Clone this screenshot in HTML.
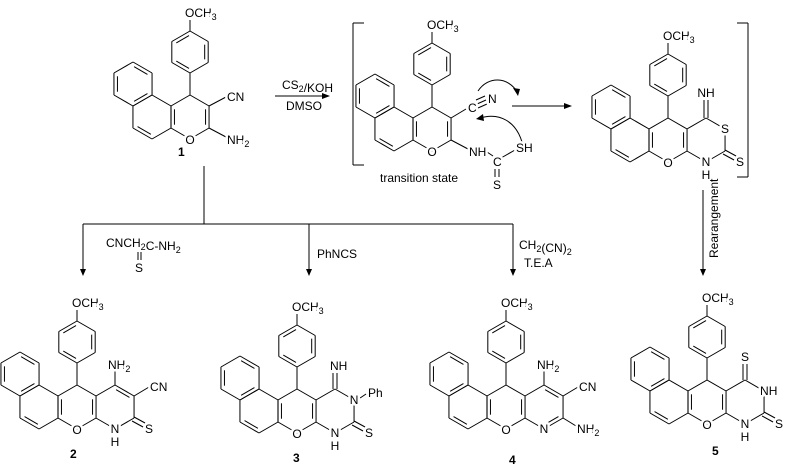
<!DOCTYPE html>
<html><head><meta charset="utf-8">
<style>
html,body{margin:0;padding:0;background:#fff;}
svg{display:block;}
text{font-family:"Liberation Sans",sans-serif;font-size:12px;fill:#000;}
.h{paint-order:stroke;stroke:#fff;stroke-width:5px;stroke-linejoin:round;}
.b{font-weight:bold;}
</style></head>
<body>
<svg id="s" width="785" height="469" viewBox="0 0 785 469" xmlns="http://www.w3.org/2000/svg">
<g id="lines" stroke="#000" stroke-width="1" fill="none"></g>
<g id="labels"></g>
</svg>
<script>
var G=document.getElementById('lines'),T=document.getElementById('labels'),NS='http://www.w3.org/2000/svg';
function L(a,b,c,d,w){var e=document.createElementNS(NS,'line');e.setAttribute('x1',a);e.setAttribute('y1',b);e.setAttribute('x2',c);e.setAttribute('y2',d);if(w)e.setAttribute('stroke-width',w);G.appendChild(e);}
function P(d,w){var e=document.createElementNS(NS,'path');e.setAttribute('d',d);if(w)e.setAttribute('stroke-width',w);G.appendChild(e);}
function F(d){var e=document.createElementNS(NS,'path');e.setAttribute('d',d);e.setAttribute('fill','#000');e.setAttribute('stroke','none');G.appendChild(e);}
function X(x,y,html,anchor,cls,nohalo){var e=document.createElementNS(NS,'text');e.setAttribute('x',x);e.setAttribute('y',y);e.setAttribute('class',(nohalo?'':'h ')+(cls||''));if(anchor)e.setAttribute('text-anchor',anchor);e.innerHTML=html;T.appendChild(e);}
function R(x,y,html){X(x,y,html,null,null,true);}
var sub=function(s){return '<tspan dy="3" font-size="9">'+s+'</tspan><tspan dy="-3"></tspan>';};
function hex(cx,cy,r){r=r||22;var v=[];for(var k=0;k<6;k++){var a=(-90+60*k)*Math.PI/180;v.push([cx+r*Math.cos(a),cy+r*Math.sin(a)]);}return v;}
function edge(v,i,j){L(v[i][0],v[i][1],v[j][0],v[j][1]);}
function inner(v,i,j,cx,cy){var a=v[i],b=v[j];var mx=(a[0]+b[0])/2,my=(a[1]+b[1])/2;var dx=cx-mx,dy=cy-my,d=Math.hypot(dx,dy);var o=3.5;var ox=dx/d*o,oy=dy/d*o;var s=0.15;L(a[0]+(b[0]-a[0])*s+ox,a[1]+(b[1]-a[1])*s+oy,b[0]+(a[0]-b[0])*s+ox,b[1]+(a[1]-b[1])*s+oy);}
function ring(cx,cy,r,inn){var v=hex(cx,cy,r);for(var k=0;k<6;k++)edge(v,k,(k+1)%6);(inn||[]).forEach(function(p){inner(v,p[0],p[1],cx,cy);});return v;}
function mol(cx,cy){
 var p=ring(cx,cy,22,[[1,2],[4,5]]);
 ring(cx-38,cy,22,[[3,4]]);
 ring(cx-57,cy-33,22,[[0,1],[2,3],[4,5]]);
 ring(cx,cy-65,21,[[1,2],[3,4],[5,0]]);
 L(cx,cy-22,cx,cy-44);L(cx,cy-86,cx,cy-97);
 X(cx-5,cy-100,'OCH'+sub('3'));
 X(cx,cy+27,'O','middle');
 return p;
}
function third(cx,cy,dbl){var v=hex(cx+38,cy,22);edge(v,5,0);edge(v,0,1);edge(v,1,2);edge(v,2,3);edge(v,3,4);(dbl||[]).forEach(function(p){inner(v,p[0],p[1],cx+38,cy);});return v;}
function thioS(v){L(v[2][0],v[2][1]-1,v[2][0]+11,v[2][1]+5);L(v[2][0]-2,v[2][1]+3,v[2][0]+9,v[2][1]+9);X(v[2][0]+15,v[2][1]+15,'S','middle');}
// Compound 1
(function(){var cx=190,cy=117;mol(cx,cy);L(cx+19,cy-11,cx+36,cy-20);X(cx+37,cy-16,'CN');L(cx+19,cy+11,cx+36,cy+20);X(cx+37,cy+27,'NH'+sub('2'));X(178,156,'1','start','b');})();
// Transition state
(function(){var cx=432,cy=129;mol(cx,cy);L(cx+19,cy-11,cx+34,cy-20);X(cx+36,cy-17,'C');
 L(477,104,486,100);L(476,100,485,96);L(478,108,487,104);X(488,103,'N');
 L(cx+19,cy+11,cx+36,cy+20);X(cx+37,cy+27,'NH');L(484,150,493,156);X(493,166,'C');L(501,158,515,150);X(516,152,'SH');
 L(495,169,495,177);L(499,169,499,177);X(493,189,'S');
 X(380,182,'transition state');
 P('M478,91 C488,76 508,76 518,93');F('M518,96 L513,88 L520,89 Z');
 P('M522,142 C516,122 500,112 480,118');F('M476,119 L483,114 L484,121 Z');
 L(353,23,353,165);L(353,23,364,23);L(353,165,364,165);
 L(748,23,748,177);L(737,23,748,23);L(737,177,748,177);})();
// Intermediate
(function(){var cx=668,cy=140;mol(cx,cy);var v=third(cx,cy);L(v[0][0]-2,v[0][1],v[0][0]-2,cy-40);L(v[0][0]+2,v[0][1],v[0][0]+2,cy-40);X(v[0][0],cy-43,'NH','middle');
 X(v[1][0],v[1][1]+4,'S','middle');X(v[3][0],v[3][1]+4,'N','middle');X(v[3][0],v[3][1]+17,'H','middle');
 thioS(v);})();
// Product 2
(function(){var cx=77,cy=407;mol(cx,cy);var v=third(cx,cy,[[0,1]]);L(v[0][0],v[0][1],v[0][0],cy-36);X(v[0][0]-7,cy-38,'NH'+sub('2'));
 L(v[1][0],v[1][1],v[1][0]+15,v[1][1]-9);X(v[1][0]+16,v[1][1]-5,'CN');
 thioS(v);
 X(v[3][0],v[3][1]+4,'N','middle');X(v[3][0],v[3][1]+17,'H','middle');X(70,458,'2','start','b');})();
// Product 3
(function(){var cx=297,cy=411;mol(cx,cy);var v=third(cx,cy);L(v[0][0]-2,v[0][1],v[0][0]-2,cy-38);L(v[0][0]+2,v[0][1],v[0][0]+2,cy-38);X(v[0][0]-5,cy-41,'NH');
 X(v[1][0],v[1][1]+4,'N','middle');L(v[1][0]+6,v[1][1]-2,v[1][0]+12,v[1][1]-6);X(v[1][0]+14,v[1][1]-3,'Ph');
 thioS(v);
 X(v[3][0],v[3][1]+4,'N','middle');X(v[3][0],v[3][1]+17,'H','middle');X(293,462,'3','start','b');})();
// Product 4
(function(){var cx=506,cy=407;mol(cx,cy);var v=third(cx,cy,[[0,1],[2,3]]);L(v[0][0],v[0][1],v[0][0],cy-36);X(v[0][0]-7,cy-38,'NH'+sub('2'));
 L(v[1][0],v[1][1],v[1][0]+15,v[1][1]-9);X(v[1][0]+16,v[1][1]-5,'CN');
 L(v[2][0],v[2][1],v[2][0]+13,v[2][1]+8);X(v[2][0]+14,v[2][1]+15,'NH'+sub('2'));
 X(v[3][0],v[3][1]+4,'N','middle');X(509,464,'4','start','b');})();
// Product 5
(function(){var cx=707,cy=402;mol(cx,cy);var v=third(cx,cy);L(v[0][0]-2,v[0][1],v[0][0]-2,cy-38);L(v[0][0]+2,v[0][1],v[0][0]+2,cy-38);X(v[0][0],cy-41,'S','middle');
 X(v[1][0]-4,v[1][1]+4,'NH');
 thioS(v);
 X(v[3][0],v[3][1]+4,'N','middle');X(v[3][0],v[3][1]+17,'H','middle');X(712,455,'5','start','b');})();
// Arrows & reagents
function arrD(x,y1,y2){L(x,y1,x,y2-4);F('M'+(x-3)+','+(y2-7)+' L'+(x+3)+','+(y2-7)+' L'+x+','+y2+' Z');}
function arrR(x1,x2,y){L(x1,y,x2-4,y);F('M'+(x2-8)+','+(y-3)+' L'+(x2-8)+','+(y+3)+' L'+x2+','+y+' Z');}
arrR(275,330,96);R(282,89,'CS'+sub('2')+'/KOH');R(286,110,'DMSO');
arrR(512,572,106);
L(204,166,204,224);L(83,224,513,224);
arrD(83,224,276);arrD(309,224,276);arrD(513,224,276);
R(106,247,'CNCH'+sub('2')+'C-NH'+sub('2'));L(138,252,138,260);L(141,252,141,260);R(135,272,'S');
R(317,258,'PhNCS');
R(519,249,'CH'+sub('2')+'(CN)'+sub('2'));R(524,267,'T.E.A');
arrD(703,190,276);
var r=document.createElementNS(NS,'text');r.setAttribute('transform','translate(718,258) rotate(-90)');r.textContent='Rearangement';T.appendChild(r);
</script>
</body></html>
